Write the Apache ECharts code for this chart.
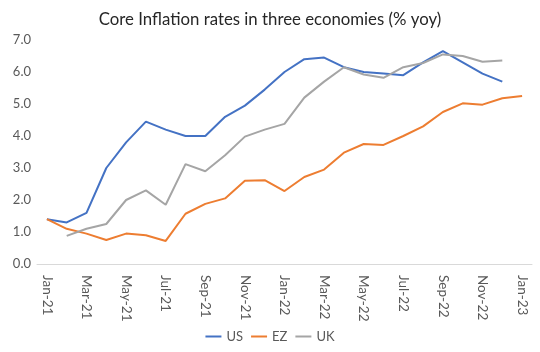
<!DOCTYPE html>
<html>
<head>
<meta charset="utf-8">
<script src="https://cdn.jsdelivr.net/npm/echarts@6/dist/echarts.min.js"></script>
<style>
  html, body { margin: 0; padding: 0; background: #fff; }
  #chart { width: 540px; height: 352px; }
</style>
</head>
<body>
<div id="chart"></div>
<script>
const months = [
  "Jan-21", "Feb-21", "Mar-21", "Apr-21", "May-21", "Jun-21", "Jul-21", "Aug-21",
  "Sep-21", "Oct-21", "Nov-21", "Dec-21", "Jan-22", "Feb-22", "Mar-22", "Apr-22",
  "May-22", "Jun-22", "Jul-22", "Aug-22", "Sep-22", "Oct-22", "Nov-22", "Dec-22",
  "Jan-23"
];

const us = [1.4, 1.3, 1.6, 3.0, 3.8, 4.45, 4.2, 4.0, 4.0, 4.6, 4.95, 5.45,
  6.0, 6.4, 6.45, 6.15, 6.0, 5.95, 5.9, 6.3, 6.65, 6.3, 5.95, 5.7, null];
const ez = [1.4, 1.1, 0.95, 0.75, 0.95, 0.9, 0.72, 1.57, 1.88, 2.05, 2.6, 2.62,
  2.28, 2.72, 2.95, 3.48, 3.75, 3.72, 4.0, 4.3, 4.75, 5.02, 4.98, 5.18, 5.25];
const uk = [null, 0.88, 1.1, 1.25, 2.0, 2.3, 1.85, 3.12, 2.9, 3.4, 3.98, 4.2,
  4.38, 5.2, 5.7, 6.15, 5.92, 5.82, 6.15, 6.28, 6.55, 6.5, 6.32, 6.36, null];

const font = "Lato, 'Open Sans', sans-serif";
const textColor = "#595959";

let chart = echarts.init(document.getElementById("chart"));

function lineSeries(name, data, color) {
  return {
    name: name,
    type: "line",
    data: data,
    symbol: "none",
    connectNulls: false,
    lineStyle: { color: color, width: 2 },
    itemStyle: { color: color }
  };
}

let option = {
  animation: false,
  title: {
    text: "Core Inflation rates in three economies (% yoy)",
    left: "center",
    top: 6,
    textStyle: {
      fontFamily: font,
      fontSize: 16.8,
      fontWeight: "normal",
      color: "#262626"
    }
  },
  legend: {
    bottom: 4,
    left: "center",
    icon: "rect",
    itemWidth: 16,
    itemHeight: 2,
    itemGap: 8,
    textStyle: { fontFamily: font, fontSize: 13, color: textColor },
    data: ["US", "EZ", "UK"]
  },
  grid: {
    left: 37,
    right: 8,
    top: 40,
    bottom: 88
  },
  xAxis: {
    type: "category",
    data: months,
    boundaryGap: true,
    axisLine: { lineStyle: { color: "#d9d9d9" } },
    axisTick: { interval: 1, length: 5, lineStyle: { color: "#d9d9d9" } },
    axisLabel: {
      interval: 1,
      rotate: -90,
      margin: 11,
      fontFamily: font,
      fontSize: 13.5,
      color: textColor
    }
  },
  yAxis: {
    type: "value",
    min: 0,
    max: 7,
    interval: 1,
    splitLine: { show: false },
    axisLine: { show: false },
    axisTick: { show: false },
    axisLabel: {
      margin: 6,
      fontFamily: font,
      fontSize: 13,
      color: textColor,
      formatter: v => v.toFixed(1)
    }
  },
  series: [
    lineSeries("US", us, "#4472C4"),
    lineSeries("EZ", ez, "#ED7D31"),
    lineSeries("UK", uk, "#A5A5A5")
  ]
};

chart.setOption(option);
</script>
</body>
</html>
